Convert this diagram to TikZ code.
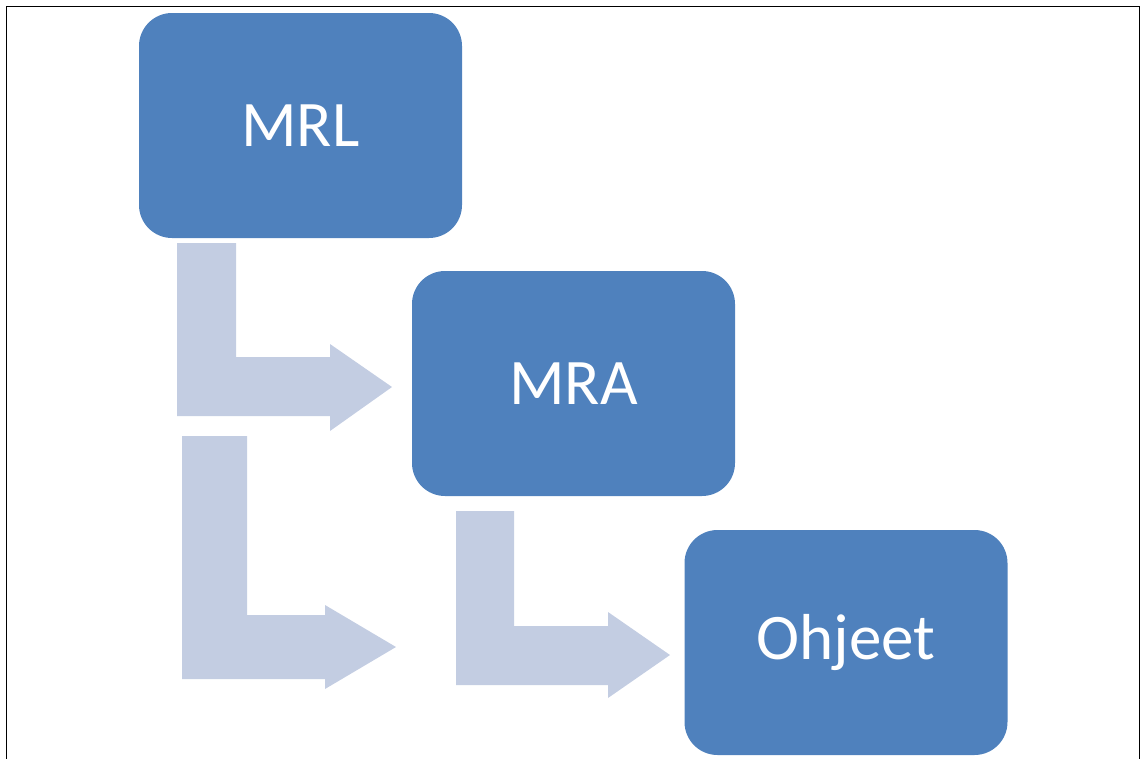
\documentclass[tikz,border=0pt]{standalone}
\usepackage{fontspec}
\setmainfont{Carlito}
\definecolor{boxblue}{HTML}{4F81BD}
\definecolor{arrowblue}{HTML}{C3CDE2}
\begin{document}
\begin{tikzpicture}[x=1pt,y=-1pt,
  stage/.style={fill=boxblue,draw=none,rounded corners=33pt,
    minimum width=323pt,minimum height=225pt,inner sep=0pt,
    text=white,font=\fontsize{65}{78}\selectfont},
  bentarrow/.style={fill=arrowblue,draw=none}]
\useasboundingbox (0,0) rectangle (1141,758);
% frame (open at the bottom)
\draw[line width=1.6pt] (6.5,760) -- (6.5,6.5) -- (1139.5,6.5) -- (1139.5,760);
% stages
\node[stage] (mrl) at (300.5,125.5) {MRL};
\node[stage] (mra) at (573.5,383.5) {MRA};
\node[stage] (ohj) at (846,642.5) {Ohjeet};
% bent arrows
\fill[bentarrow] (177,243) -- (236,243) -- (236,357) -- (330,357) -- (330,344)
  -- (392,387) -- (330,431) -- (330,416) -- (177,416) -- cycle;
\fill[bentarrow] (182,436) -- (247,436) -- (247,615) -- (325,615) -- (325,605)
  -- (396,647) -- (325,689) -- (325,679) -- (182,679) -- cycle;
\fill[bentarrow] (456,511) -- (514,511) -- (514,626) -- (608,626) -- (608,612)
  -- (670,655) -- (608,698) -- (608,685) -- (456,685) -- cycle;
\end{tikzpicture}
\end{document}
